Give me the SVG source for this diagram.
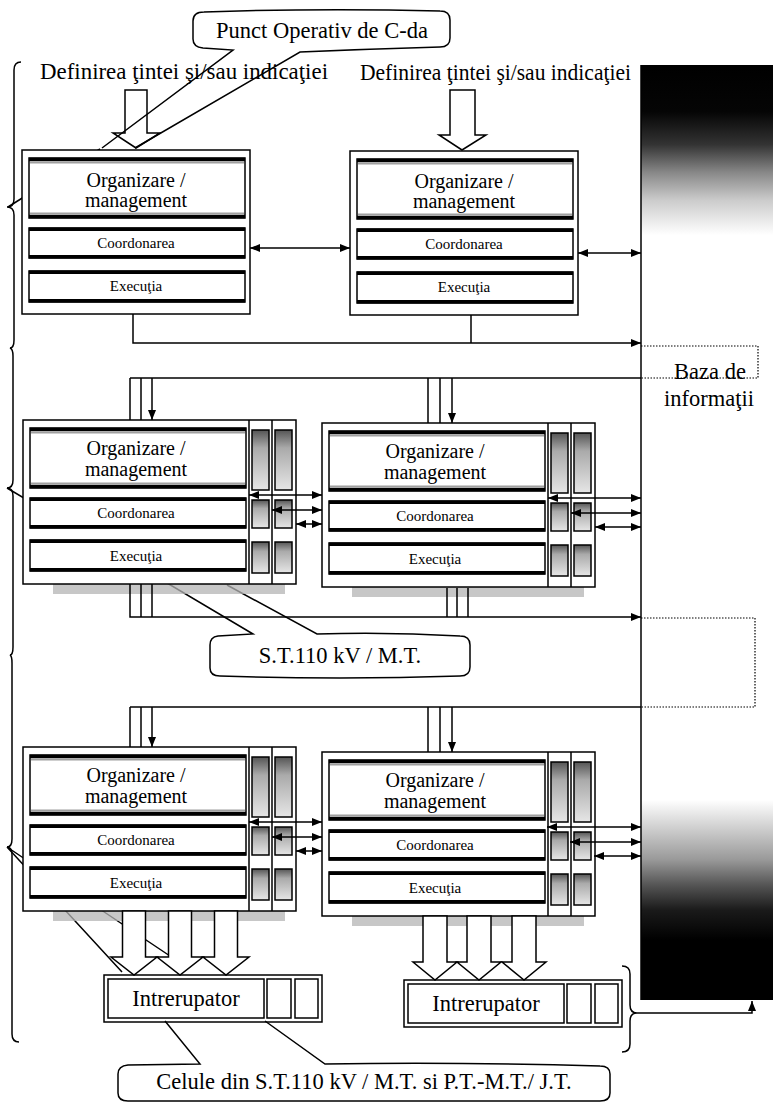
<svg xmlns="http://www.w3.org/2000/svg" width="773" height="1104" viewBox="0 0 773 1104">
<style>
.ln{fill:none;stroke:#000;stroke-width:1.5}
.box{fill:#fff;stroke:#000;stroke-width:1.5}
.band{fill:#fff;stroke:#000;stroke-width:1.5}
.bl{stroke:#000;stroke-width:3.5}
.bg{stroke:#a0a0a0;stroke-width:2}
.mini{fill:url(#mg);stroke:#000;stroke-width:1.5}
.shadow{fill:#b4b4b4;opacity:.75}
.hol{fill:#fff;stroke:#000;stroke-width:1.5}
.ar{fill:none;stroke:#000;stroke-width:1.5;marker-end:url(#ah)}
.dar{fill:none;stroke:#000;stroke-width:1.5;marker-start:url(#ah);marker-end:url(#ah)}
.dot{fill:none;stroke:#000;stroke-width:1.2;stroke-dasharray:1.5 1.5}
text{font-family:"Liberation Serif","Times New Roman",serif;fill:#000}
.c{text-anchor:middle}
.big{font-size:22.5px}
.org{font-size:20px}
.sm{font-size:15px}
</style>
<defs>
<linearGradient id="pg" x1="0" y1="65" x2="0" y2="1000" gradientUnits="userSpaceOnUse">
<stop offset="0" stop-color="#000"/>
<stop offset="0.05" stop-color="#050505"/>
<stop offset="0.085" stop-color="#333"/>
<stop offset="0.115" stop-color="#888"/>
<stop offset="0.145" stop-color="#ccc"/>
<stop offset="0.182" stop-color="#fff"/>
<stop offset="0.786" stop-color="#fff"/>
<stop offset="0.818" stop-color="#ccc"/>
<stop offset="0.85" stop-color="#999"/>
<stop offset="0.877" stop-color="#555"/>
<stop offset="0.904" stop-color="#1a1a1a"/>
<stop offset="0.936" stop-color="#000"/>
<stop offset="1" stop-color="#000"/>
</linearGradient>
<linearGradient id="mg" x1="0" y1="0" x2="0" y2="1">
<stop offset="0" stop-color="#555"/>
<stop offset="0.3" stop-color="#aaa"/>
<stop offset="1" stop-color="#e6e6e6"/>
</linearGradient>
<marker id="ah" viewBox="0 0 10 8" refX="10" refY="4" markerWidth="10" markerHeight="8" markerUnits="userSpaceOnUse" orient="auto-start-reverse">
<path d="M0,0L10,4L0,8Z" fill="#000"/>
</marker>
<g id="bOrg"><rect class="band" width="216" height="60"/><path class="bl" d="M0,1.5H216M0,58.5H216"/><path class="bg" d="M1,4.5H215M1,55.5H215"/></g>
<g id="bC"><rect class="band" width="216" height="30"/><path class="bl" d="M0,1.2H216M0,28.8H216"/></g>
<g id="bE"><rect class="band" width="216" height="31"/><path class="bl" d="M0,1.2H216M0,29.8H216"/></g>
<g id="frame1"><rect class="box" width="228" height="164"/><use href="#bOrg" x="7" y="8"/><use href="#bC" x="7" y="78"/><use href="#bE" x="7" y="121"/></g>
<g id="frameS"><rect class="shadow" x="30" y="164" width="232" height="10"/><rect class="box" width="273" height="164"/><path class="ln" d="M226,0V164M249,0V164"/><use href="#bOrg" x="7" y="8"/><use href="#bC" x="7" y="78"/><use href="#bE" x="7" y="120"/><rect class="mini" x="229" y="10" width="17" height="60"/><rect class="mini" x="252" y="10" width="17" height="60"/><rect class="mini" x="229" y="80" width="17" height="28"/><rect class="mini" x="252" y="80" width="17" height="28"/><rect class="mini" x="229" y="122" width="17" height="31"/><rect class="mini" x="252" y="122" width="17" height="31"/></g>
</defs>
<rect width="773" height="1104" fill="#fff"/>

<g id="braces">
<path class="ln" d="M21,62Q14,62 14,70V199Q14,207 7,207Q14,207 14,215V340Q14,348 10,348Q13,349 13,356V480Q13,488 7,488Q13,488 13,496V647Q13,655 10,655Q12,656 12,663V839Q12,847 7,847Q12,847 12,855V1034Q12,1042 19,1042"/>
<path class="ln" d="M8,207L100,149"/>
<path class="ln" d="M7,847L122,972M7,847L170,956"/>
</g>

<g id="n-st">
<path class="ln" d="M7,488L253,634L218,636Q210,637 210,645V668Q210,676 220,676Q340,680 460,676Q470,676 470,667V645Q470,636 460,636Q390,632 317,634L227,585"/>
<text class="c big" x="340" y="663">S.T.110 kV / M.T.</text>
</g>

<g id="n1">
<use href="#frame1" x="22" y="150"/>
<text class="c org" x="136" y="187">Organizare /</text>
<text class="c org" x="136" y="207">management</text>
<text class="c sm" x="136" y="248">Coordonarea</text>
<text class="c sm" x="136" y="291">Execuţia</text>
</g>
<g id="n2">
<use href="#frame1" x="350" y="151"/>
<text class="c org" x="464" y="188">Organizare /</text>
<text class="c org" x="464" y="208">management</text>
<text class="c sm" x="464" y="249">Coordonarea</text>
<text class="c sm" x="464" y="292">Execuţia</text>
</g>
<g id="n3">
<use href="#frameS" x="23" y="420"/>
<text class="c org" x="136" y="455">Organizare /</text>
<text class="c org" x="136" y="476">management</text>
<text class="c sm" x="136" y="518">Coordonarea</text>
<text class="c sm" x="136" y="561">Execuţia</text>
</g>
<g id="n4">
<use href="#frameS" x="322" y="423"/>
<text class="c org" x="435" y="458">Organizare /</text>
<text class="c org" x="435" y="479">management</text>
<text class="c sm" x="435" y="521">Coordonarea</text>
<text class="c sm" x="435" y="564">Execuţia</text>
</g>
<g id="n5">
<use href="#frameS" x="23" y="747"/>
<text class="c org" x="136" y="782">Organizare /</text>
<text class="c org" x="136" y="803">management</text>
<text class="c sm" x="136" y="845">Coordonarea</text>
<text class="c sm" x="136" y="888">Execuţia</text>
</g>
<g id="n6">
<use href="#frameS" x="322" y="752"/>
<text class="c org" x="435" y="787">Organizare /</text>
<text class="c org" x="435" y="808">management</text>
<text class="c sm" x="435" y="850">Coordonarea</text>
<text class="c sm" x="435" y="893">Execuţia</text>
</g>

<g id="n-baza">
<rect x="641" y="65" width="132" height="935" fill="url(#pg)"/>
<path class="ln" d="M641,65V1000"/>
<path class="dot" d="M641,346H758V378H641"/>
<path class="dot" d="M641,618H755V707H641"/>
<text class="c big" x="710" y="379">Baza de</text>
<text class="c big" x="709" y="406">informaţii</text>
</g>

<g id="n-int1">
<rect class="box" x="104" y="975" width="218" height="47"/>
<rect class="box" x="108" y="979" width="156" height="39"/>
<rect class="box" x="267" y="979" width="24" height="39"/>
<rect class="box" x="295" y="979" width="23" height="39"/>
<text class="c big" x="186" y="1006">Intrerupator</text>
</g>
<g id="n-int2">
<rect class="box" x="404" y="980" width="218" height="47"/>
<rect class="box" x="408" y="984" width="156" height="39"/>
<rect class="box" x="567" y="984" width="24" height="39"/>
<rect class="box" x="595" y="984" width="23" height="39"/>
<text class="c big" x="486" y="1011">Intrerupator</text>
</g>

<g id="connectors">
<path class="hol" d="M125,90H147V133H160L136,148L113,133H125Z"/>
<path class="hol" d="M450,90H475V135H486L462,150L439,135H450Z"/>
<path class="dar" d="M250,248H350"/>
<path class="dar" d="M578,253H641"/>
<path class="ar" d="M133,314V343H641"/>
<path class="ln" d="M471,315V343"/>
<path class="ln" d="M130,378H641"/>
<path class="ar" d="M130,378V420M141,378V420M152,378V420"/>
<path class="ar" d="M428,378V423M440,378V423M452,378V423"/>
<path class="dar" d="M249,495H322"/>
<path class="dar" d="M272,510H322"/>
<path class="dar" d="M296,524H322"/>
<path class="dar" d="M548,498H641"/>
<path class="dar" d="M571,513H641"/>
<path class="dar" d="M595,527H641"/>
<path class="ar" d="M130,584V617H641"/>
<path class="ln" d="M141,584V617M152,584V617M447,588V617M457,588V617M468,588V617"/>
<path class="ln" d="M130,707H641"/>
<path class="ar" d="M130,707V747M141,707V747M152,707V747"/>
<path class="ar" d="M428,707V752M440,707V752M452,707V752"/>
<path class="dar" d="M249,822H322"/>
<path class="dar" d="M272,837H322"/>
<path class="dar" d="M296,851H322"/>
<path class="dar" d="M547,827H641"/>
<path class="dar" d="M570,842H641"/>
<path class="dar" d="M594,856H641"/>
<path class="hol" d="M122.5,911H145.5V957H157L134,975L111,957H122.5Z"/>
<path class="hol" d="M168.5,911H191.5V957H203L180,975L157,957H168.5Z"/>
<path class="hol" d="M214.5,911H237.5V957H249L226,975L203,957H214.5Z"/>
<path class="hol" d="M423,916H447V962H457L435,980L413,962H423Z"/>
<path class="hol" d="M467,916H491V962H501L479,980L457,962H467Z"/>
<path class="hol" d="M512,916H536V962H546L524,980L502,962H512Z"/>
<path class="ln" d="M622,966Q630,966 630,974V1005Q630,1013 637,1013Q630,1013 630,1021V1044Q630,1052 622,1052"/>
<path class="ar" d="M637,1013H752V1001"/>
</g>

<g id="n-celule">
<path class="ln" d="M165,1021L200,1064L128,1065Q118,1066 118,1074V1093Q118,1101 128,1101H600Q610,1101 610,1093V1074Q610,1066 600,1066Q460,1062 325,1064L265,1021"/>
<text class="c big" x="364" y="1089">Celule din S.T.110 kV / M.T. si P.T.-M.T./ J.T.</text>
</g>

<g id="labels">
<text class="big" x="40" y="79" textLength="288" lengthAdjust="spacingAndGlyphs">Definirea ţintei şi/sau indicaţiei</text>
<text class="big" x="360" y="80" textLength="271" lengthAdjust="spacingAndGlyphs">Definirea ţintei şi/sau indicaţiei</text>
</g>

<g id="n-punct">
<path class="ln" d="M102,148L233,50L203,48Q193,47 193,39V21Q193,12 204,12Q320,8 440,11Q450,11 450,20V38Q450,47 440,47Q370,49 300,52L135,148"/>
<text class="c big" x="322" y="38">Punct Operativ de C-da</text>
</g>
</svg>
